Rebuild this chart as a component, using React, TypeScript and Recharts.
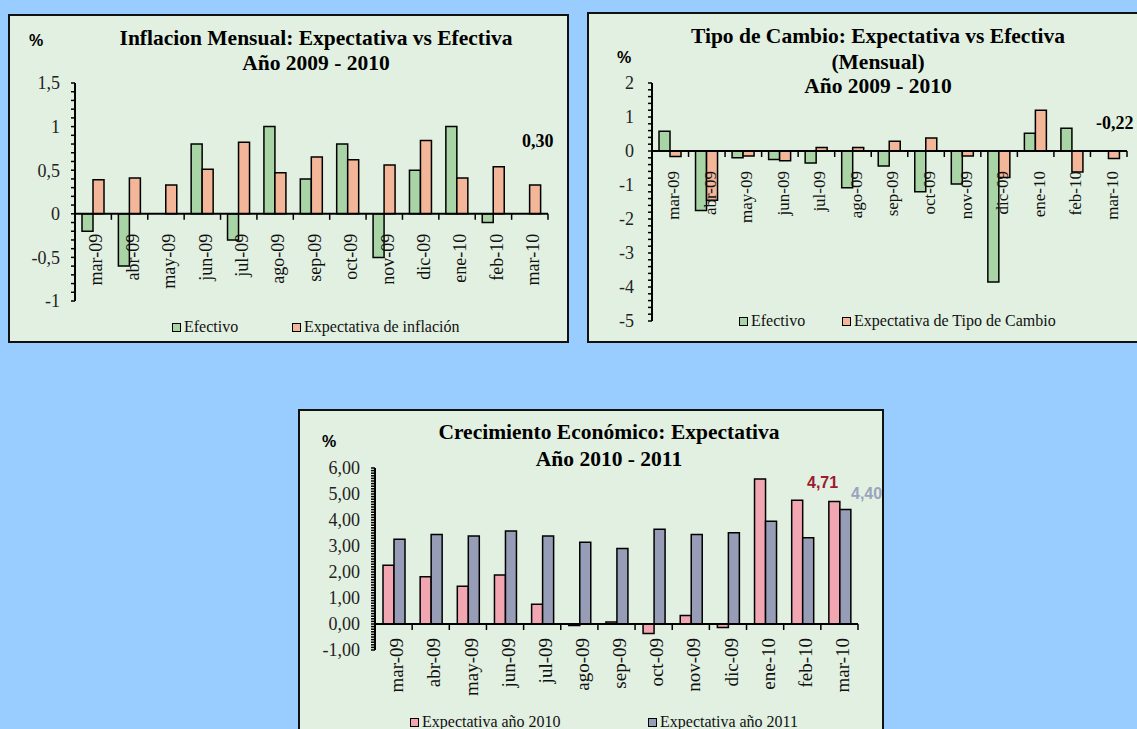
import React from 'react';
import { BarChart, Bar, XAxis, YAxis, ReferenceLine } from 'recharts';

// ---------- data ----------
const months = ['mar-09', 'abr-09', 'may-09', 'jun-09', 'jul-09', 'ago-09', 'sep-09', 'oct-09', 'nov-09', 'dic-09', 'ene-10', 'feb-10', 'mar-10'];

const inflacionEfectivo = [-0.2, -0.6, 0, 0.8, -0.3, 1.0, 0.4, 0.8, -0.5, 0.5, 1.0, -0.1, 0];
const inflacionExpectativa = [0.39, 0.41, 0.33, 0.51, 0.82, 0.47, 0.65, 0.62, 0.56, 0.84, 0.41, 0.54, 0.33];

const cambioEfectivo = [0.58, -1.75, -0.2, -0.25, -0.35, -1.08, -0.44, -1.2, -0.97, -3.85, 0.52, 0.67, 0];
const cambioExpectativa = [-0.16, -1.45, -0.15, -0.29, 0.1, 0.1, 0.29, 0.38, -0.15, -0.78, 1.2, -0.62, -0.22];

const crecimiento2010 = [2.26, 1.82, 1.45, 1.88, 0.76, -0.06, 0.08, -0.37, 0.33, -0.13, 5.58, 4.76, 4.71];
const crecimiento2011 = [3.26, 3.44, 3.38, 3.58, 3.38, 3.14, 2.9, 3.64, 3.44, 3.51, 3.95, 3.32, 4.40];

const inflacionTicks = [-1, -0.5, 0, 0.5, 1, 1.5];
const cambioTicks = [-5, -4, -3, -2, -1, 0, 1, 2];
const crecimientoTicks = [-1, 0, 1, 2, 3, 4, 5, 6];

const inflacionSeries = ['Efectivo', 'Expectativa de inflación'];
const cambioSeries = ['Efectivo', 'Expectativa de Tipo de Cambio'];
const crecimientoSeries = ['Expectativa año 2010', 'Expectativa año 2011'];

const inflacionTitle = ['Inflacion Mensual: Expectativa vs Efectiva', 'Año 2009 - 2010'];
const cambioTitle = ['Tipo de Cambio: Expectativa vs Efectiva', '(Mensual)', 'Año 2009 - 2010'];
const crecimientoTitle = ['Crecimiento Económico: Expectativa', 'Año 2010 - 2011'];

const annotations = ['0,30', '-0,22', '4,71', '4,40'];

// ---------- styles ----------
const serif = '"Liberation Serif", "Times New Roman", serif';
const sans = '"Liberation Sans", Arial, sans-serif';
const PAGE_BG = '#99CCFF';
const PANEL_BG = '#E2F0E1';
const GREEN = '#A9D5A6';
const ORANGE = '#F3B698';
const PINK = '#F2A6B2';
const GRAY = '#979DB6';

const inflacionData = months.map((m, i) => ({ m, a: inflacionEfectivo[i], b: inflacionExpectativa[i] }));
const cambioData = months.map((m, i) => ({ m, a: cambioEfectivo[i], b: cambioExpectativa[i] }));
const crecimientoData = months.map((m, i) => ({ m, a: crecimiento2010[i], b: crecimiento2011[i] }));

function buildMinor(min: number, max: number, step: number) {
  const n = Math.round((max - min) / step);
  const out: number[] = [];
  for (let i = 0; i <= n; i++) out.push(Math.round((min + i * step) * 1000) / 1000);
  return out;
}

const fmtInfl = (v: number) => String(v).replace('.', ',');
const fmtInt = (v: number) => String(v);
const fmt2 = (v: number) => v.toFixed(2).replace('.', ',');

function YTick(props: any) {
  const { x, y, payload, majors, fmt, fontSize } = props;
  const v = payload && payload.value;
  const isMajor = (majors as number[]).some((m) => Math.abs(m - v) < 1e-6);
  if (!isMajor) return <g />;
  return (
    <text x={x} y={y} dy="0.35em" textAnchor="end" fill="#222" style={{ fontFamily: serif, fontSize }}>
      {fmt(v)}
    </text>
  );
}

function CategoryAxisAtZero(props: any) {
  const { viewBox, cats, gap, fontSize, shift } = props;
  if (!viewBox) return null;
  const { x, y, width } = viewBox;
  const band = width / cats.length;
  return (
    <g>
      {Array.from({ length: cats.length + 1 }).map((_, i) => (
        <line key={'t' + i} x1={x + i * band} x2={x + i * band} y1={y} y2={y + 6} stroke="#000" strokeWidth={1.5} />
      ))}
      {cats.map((c: string, i: number) => {
        const cx = x + (i + 0.5) * band + shift;
        const ty = y + gap;
        return (
          <text
            key={'l' + i}
            x={cx}
            y={ty}
            dy="0.35em"
            textAnchor="end"
            transform={`rotate(-90 ${cx} ${ty})`}
            fill="#111"
            style={{ fontFamily: serif, fontSize }}
          >
            {c}
          </text>
        );
      })}
    </g>
  );
}

type ChartProps = {
  left: number; top: number; width: number; height: number;
  margin: { top: number; right: number; bottom: number; left: number };
  yWidth: number; data: any[]; colors: [string, string];
  domain: [number, number]; majors: number[]; minorStep: number;
  fmt: (v: number) => string; tickMargin: number; yFont: number;
  xFont: number; xGap: number;
};

function Chart(p: ChartProps) {
  const minor = buildMinor(p.domain[0], p.domain[1], p.minorStep);
  return (
    <div style={{ position: 'absolute', left: p.left, top: p.top, width: p.width, height: p.height }}>
      <BarChart width={p.width} height={p.height} data={p.data} margin={p.margin} barGap={0} barSize={11}>
        <XAxis dataKey="m" hide />
        <YAxis
          type="number"
          domain={p.domain}
          ticks={minor}
          interval={0}
          allowDataOverflow
          width={p.yWidth}
          tickSize={4}
          tickMargin={p.tickMargin}
          axisLine={{ stroke: '#000', strokeWidth: 2 }}
          tickLine={{ stroke: '#000', strokeWidth: 1.5 }}
          tick={<YTick majors={p.majors} fmt={p.fmt} fontSize={p.yFont} />}
        />
        <Bar dataKey="a" fill={p.colors[0]} stroke="#000" strokeWidth={1.5} isAnimationActive={false} />
        <Bar dataKey="b" fill={p.colors[1]} stroke="#000" strokeWidth={1.5} isAnimationActive={false} />
        <ReferenceLine
          y={0}
          stroke="#000"
          strokeWidth={2}
          label={(lp: any) => (
            <CategoryAxisAtZero viewBox={lp.viewBox} cats={months} gap={p.xGap} fontSize={p.xFont} shift={3} />
          )}
        />
      </BarChart>
    </div>
  );
}

function Panel({ left, top, width, height }: { left: number; top: number; width: number; height: number }) {
  return (
    <div
      style={{
        position: 'absolute', left, top, width, height, boxSizing: 'border-box',
        border: '2px solid #111', background: PANEL_BG,
      }}
    />
  );
}

function CText({ cx, cy, size, bold = true, family = serif, color = '#000', children }: any) {
  return (
    <div
      style={{
        position: 'absolute', left: cx, top: cy, transform: 'translate(-50%, -50%)',
        whiteSpace: 'nowrap', fontFamily: family, fontSize: size, fontWeight: bold ? 700 : 400,
        color, lineHeight: 1,
      }}
    >
      {children}
    </div>
  );
}

function LText({ x, cy, size, bold = true, family = serif, color = '#000', children }: any) {
  return (
    <div
      style={{
        position: 'absolute', left: x, top: cy, transform: 'translateY(-50%)',
        whiteSpace: 'nowrap', fontFamily: family, fontSize: size, fontWeight: bold ? 700 : 400,
        color, lineHeight: 1,
      }}
    >
      {children}
    </div>
  );
}

function LegendItem({ x, cy, color, label }: any) {
  return (
    <div
      style={{
        position: 'absolute', left: x, top: cy, transform: 'translateY(-50%)', display: 'flex',
        alignItems: 'center', fontFamily: serif, fontSize: 16, whiteSpace: 'nowrap', color: '#111', lineHeight: 1,
      }}
    >
      <span
        style={{
          display: 'inline-block', width: 7, height: 7, border: '1px solid #000', background: color, marginRight: 3,
        }}
      />
      {label}
    </div>
  );
}

export default function App() {
  return (
    <div style={{ position: 'absolute', left: 0, top: 0, width: 1137, height: 729, overflow: 'hidden', background: PAGE_BG }}>
      {/* Panel 1 */}
      <Panel left={8} top={14} width={561} height={329} />
      <Chart
        left={10} top={16} width={557} height={325}
        margin={{ top: 67, right: 19, bottom: 40, left: 15 }} yWidth={50}
        data={inflacionData} colors={[GREEN, ORANGE]}
        domain={[-1, 1.5]} majors={inflacionTicks} minorStep={0.1}
        fmt={fmtInfl} tickMargin={11} yFont={18} xFont={18} xGap={20}
      />
      <LText x={29} cy={41} size={16} family={sans}>%</LText>
      <CText cx={316} cy={39} size={21.5}>{inflacionTitle[0]}</CText>
      <CText cx={316} cy={64} size={21.5}>{inflacionTitle[1]}</CText>
      <LText x={522} cy={141} size={18}>{annotations[0]}</LText>
      <LegendItem x={172} cy={327} color={GREEN} label={inflacionSeries[0]} />
      <LegendItem x={292} cy={327} color={ORANGE} label={inflacionSeries[1]} />

      {/* Panel 2 */}
      <Panel left={587} top={12} width={570} height={331} />
      <Chart
        left={589} top={14} width={557} height={327}
        margin={{ top: 69, right: 19, bottom: 20, left: 13 }} yWidth={50}
        data={cambioData} colors={[GREEN, ORANGE]}
        domain={[-5, 2]} majors={cambioTicks} minorStep={0.2}
        fmt={fmtInt} tickMargin={14} yFont={18} xFont={17} xGap={20}
      />
      <LText x={617} cy={58} size={16} family={sans}>%</LText>
      <CText cx={878} cy={37} size={21.5}>{cambioTitle[0]}</CText>
      <CText cx={878} cy={63} size={21.5}>{cambioTitle[1]}</CText>
      <CText cx={878} cy={87} size={21.5}>{cambioTitle[2]}</CText>
      <LText x={1096} cy={123} size={18}>{annotations[1]}</LText>
      <LegendItem x={739} cy={321} color={GREEN} label={cambioSeries[0]} />
      <LegendItem x={842} cy={321} color={ORANGE} label={cambioSeries[1]} />

      {/* Panel 3 */}
      <Panel left={298} top={409} width={586} height={340} />
      <Chart
        left={300} top={411} width={578} height={318}
        margin={{ top: 57, right: 20, bottom: 79, left: 20 }} yWidth={55}
        data={crecimientoData} colors={[PINK, GRAY]}
        domain={[-1, 6]} majors={crecimientoTicks} minorStep={0.1}
        fmt={fmt2} tickMargin={11} yFont={18} xFont={19} xGap={14}
      />
      <LText x={322} cy={442} size={16} family={sans}>%</LText>
      <CText cx={609} cy={433} size={21.5}>{crecimientoTitle[0]}</CText>
      <CText cx={609} cy={460} size={21.5}>{crecimientoTitle[1]}</CText>
      <LText x={807} cy={483} size={16} family={sans} color="#9B1B30">{annotations[2]}</LText>
      <LText x={851} cy={494} size={16} family={sans} color="#9AA3BE">{annotations[3]}</LText>
      <LegendItem x={410} cy={722} color={PINK} label={crecimientoSeries[0]} />
      <LegendItem x={648} cy={722} color={GRAY} label={crecimientoSeries[1]} />
    </div>
  );
}
